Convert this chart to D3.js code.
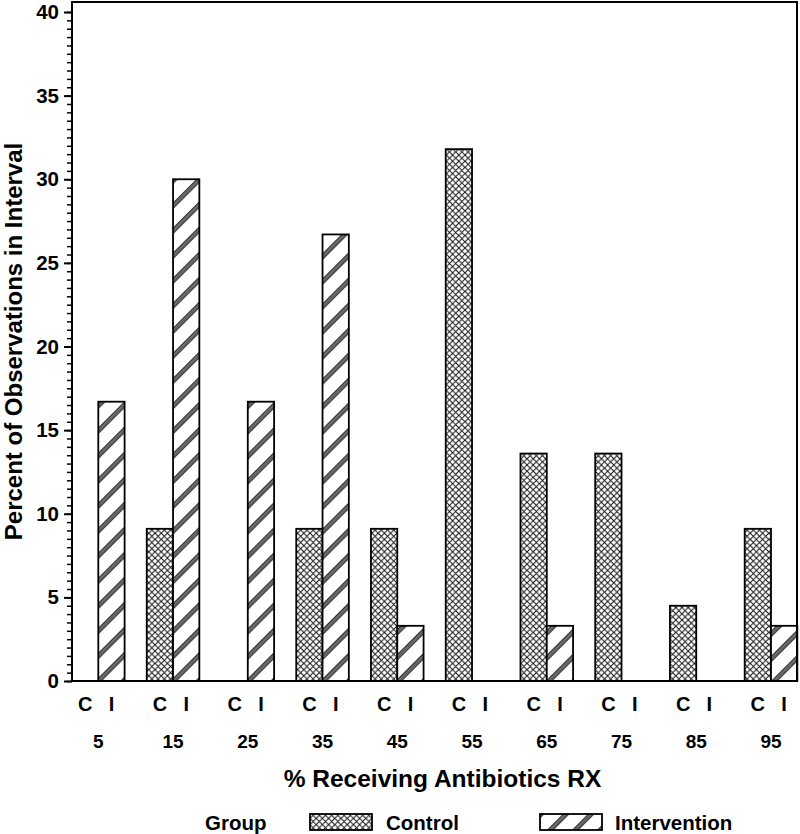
<!DOCTYPE html>
<html>
<head>
<meta charset="utf-8">
<script src="https://cdn.jsdelivr.net/npm/d3@7"></script>
<style>
  html, body { margin: 0; padding: 0; background: #fff; }
  svg { display: block; }
  text { font-family: "Liberation Sans", Arial, Helvetica, sans-serif; font-weight: bold; fill: #000; }
</style>
</head>
<body>
<svg id="chart" width="800" height="834"></svg>
<script>
// ---- data ----
const groups = ["5", "15", "25", "35", "45", "55", "65", "75", "85", "95"];
const subgroups = ["C", "I"];
const control = [0, 9.1, 0, 9.1, 9.1, 31.8, 13.6, 13.6, 4.5, 9.1];
const intervention = [16.7, 30.0, 16.7, 26.7, 3.3, 0, 3.3, 0, 0, 3.3];
const yMajorTicks = [0, 5, 10, 15, 20, 25, 30, 35, 40];
const legendLabels = ["Control", "Intervention"];
const xTitle = "% Receiving Antibiotics RX";
const yTitle = "Percent of Observations in Interval";
const legendTitle = "Group";

// ---- layout ----
const frame = { left: 72, top: 2, right: 797, bottom: 681 };
const svg = d3.select("#chart");

const x = d3.scalePoint().domain(groups).range([98.3, 771]);
const xSub = d3.scaleBand().domain(subgroups).range([-26.3, 26.3]);
const y = d3.scaleLinear().domain([0, 40]).range([681, 12]);

// ---- patterns ----
const defs = svg.append("defs");
const cross = defs.append("pattern")
  .attr("id", "cross").attr("patternUnits", "userSpaceOnUse")
  .attr("width", 6.2).attr("height", 6.2);
cross.append("rect").attr("width", 6.2).attr("height", 6.2).attr("fill", "#fff");
cross.append("path").attr("d", "M0,0L6.2,6.2M6.2,0L0,6.2")
  .attr("stroke", "#111").attr("stroke-width", 1.0).attr("fill", "none");

const stripe = defs.append("pattern")
  .attr("id", "stripe").attr("patternUnits", "userSpaceOnUse")
  .attr("width", 17.7).attr("height", 17.7)
  .attr("patternTransform", "rotate(45)");
stripe.append("rect").attr("width", 17.7).attr("height", 17.7).attr("fill", "#fff");
stripe.append("rect").attr("x", 0).attr("width", 4.6).attr("height", 17.7).attr("fill", "#6a6a6a");
stripe.append("line").attr("x1", 0.4).attr("x2", 0.4).attr("y1", 0).attr("y2", 17.7)
  .attr("stroke", "#222").attr("stroke-width", 0.9);
stripe.append("line").attr("x1", 4.2).attr("x2", 4.2).attr("y1", 0).attr("y2", 17.7)
  .attr("stroke", "#222").attr("stroke-width", 0.9);

const fills = { C: "url(#cross)", I: "url(#stripe)" };

// ---- bars ----
const rows = [];
groups.forEach((g, i) => {
  rows.push({ g, s: "C", v: control[i] });
  rows.push({ g, s: "I", v: intervention[i] });
});

svg.append("g").selectAll("rect")
  .data(rows.filter(d => d.v > 0))
  .join("rect")
  .attr("x", d => x(d.g) + xSub(d.s))
  .attr("width", xSub.bandwidth())
  .attr("y", d => y(d.v))
  .attr("height", d => y(0) - y(d.v))
  .attr("fill", d => fills[d.s])
  .attr("stroke", "#000")
  .attr("stroke-width", 1.8);

// ---- frame ----
svg.append("rect")
  .attr("x", frame.left).attr("y", frame.top)
  .attr("width", frame.right - frame.left).attr("height", frame.bottom - frame.top)
  .attr("fill", "none").attr("stroke", "#000").attr("stroke-width", 2);

// ---- y axis ----
const minorAxis = d3.axisLeft(y).tickValues(d3.range(0, 40.001, 0.5)).tickSize(5).tickFormat("");
const gMinor = svg.append("g").attr("transform", `translate(${frame.left},0)`).call(minorAxis);
gMinor.select(".domain").remove();
gMinor.selectAll("line").attr("stroke", "#000").attr("stroke-width", 1.5);

const majorAxis = d3.axisLeft(y).tickValues(yMajorTicks).tickSize(8).tickPadding(5).tickFormat(d3.format("d"));
const gMajor = svg.append("g").attr("transform", `translate(${frame.left},0)`).call(majorAxis);
gMajor.select(".domain").remove();
gMajor.selectAll("line").attr("stroke", "#000").attr("stroke-width", 2);
gMajor.selectAll("text")
  .attr("font-size", 20.5)
  .style("font-family", "'Liberation Sans', Arial, sans-serif")
  .style("font-weight", "bold")
  .attr("fill", "#000");

// ---- x labels ----
const subLabels = [];
groups.forEach(g => subgroups.forEach(s => subLabels.push({ g, s })));
svg.append("g").selectAll("text")
  .data(subLabels)
  .join("text")
  .attr("x", d => x(d.g) + xSub(d.s) + xSub.bandwidth() / 2)
  .attr("y", 711)
  .attr("text-anchor", "middle")
  .attr("font-size", 20)
  .text(d => d.s);

svg.append("g").selectAll("text")
  .data(groups)
  .join("text")
  .attr("x", d => x(d))
  .attr("y", 748)
  .attr("text-anchor", "middle")
  .attr("font-size", 19)
  .text(d => d);

svg.append("text")
  .attr("x", 442.5).attr("y", 787)
  .attr("text-anchor", "middle")
  .attr("font-size", 24.5)
  .text(xTitle);

svg.append("text")
  .attr("transform", "translate(22,341.5) rotate(-90)")
  .attr("text-anchor", "middle")
  .attr("font-size", 24)
  .text(yTitle);

// ---- legend ----
const lg = svg.append("g");
lg.append("text").attr("x", 205).attr("y", 830).attr("font-size", 20.5).text(legendTitle);
const legendItems = [
  { label: legendLabels[0], fill: fills.C, sx: 310, tx: 386 },
  { label: legendLabels[1], fill: fills.I, sx: 540, tx: 615 }
];
legendItems.forEach(it => {
  lg.append("rect").attr("x", it.sx).attr("y", 814).attr("width", 62).attr("height", 16)
    .attr("fill", it.fill).attr("stroke", "#000").attr("stroke-width", 1.8);
  lg.append("text").attr("x", it.tx).attr("y", 830).attr("font-size", 20.5).text(it.label);
});
</script>
</body>
</html>
